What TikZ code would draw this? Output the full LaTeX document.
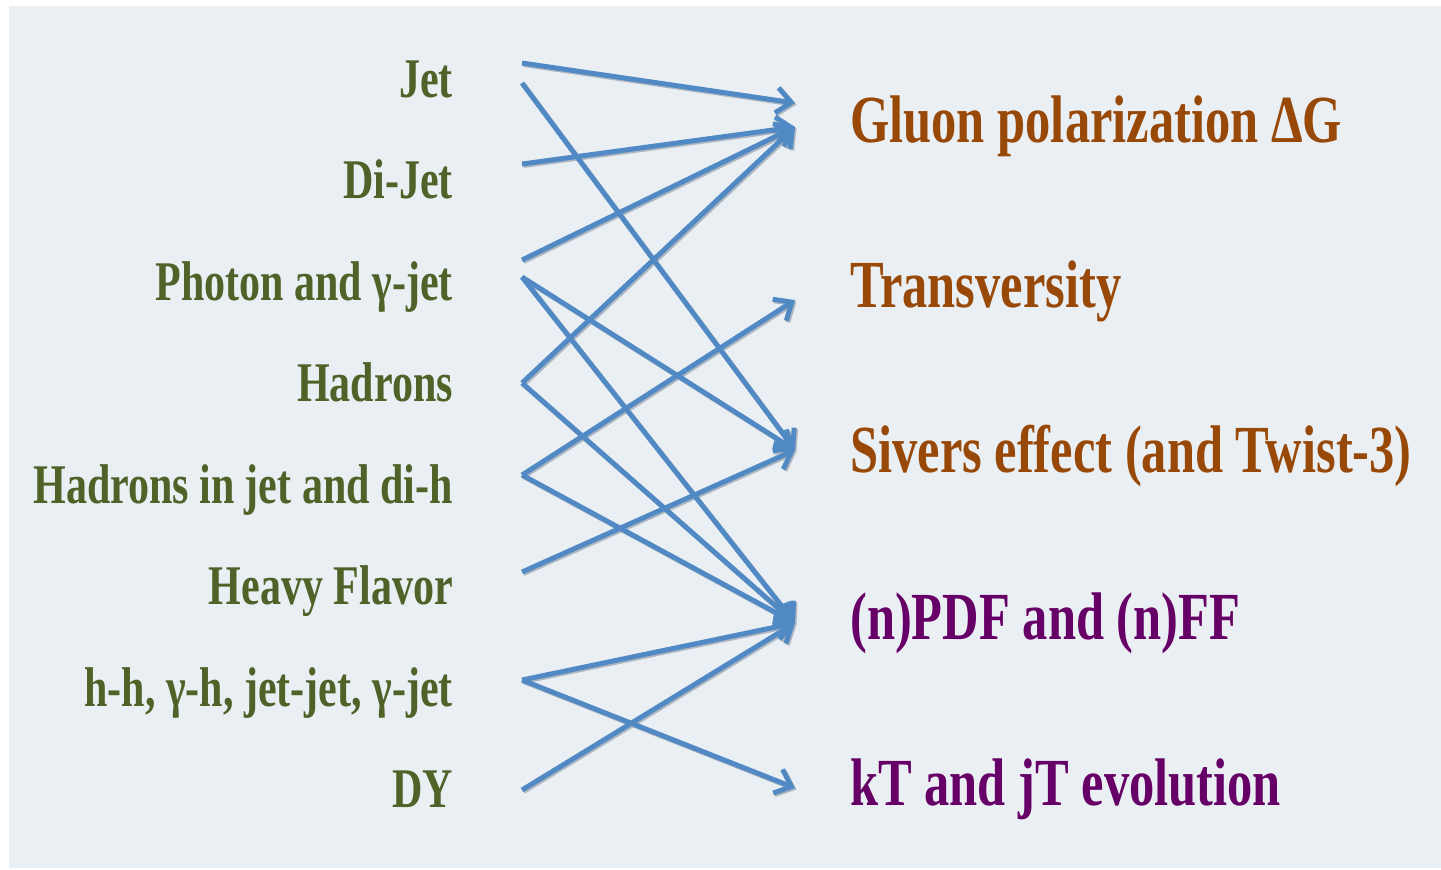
\documentclass[tikz,border=0pt]{standalone}
\usepackage{fontspec}
\setmainfont{Liberation Serif}[FakeStretch=0.75]
\usetikzlibrary{arrows.meta}
\definecolor{bgc}{HTML}{EAEFF4}
\definecolor{olivec}{HTML}{4F6228}
\definecolor{brownc}{HTML}{984807}
\definecolor{purpc}{HTML}{660066}
\definecolor{arrc}{HTML}{5089C4}
\definecolor{shadc}{HTML}{AEB6C0}
\begin{document}
\begin{tikzpicture}[x=0.75pt,y=-0.75pt,
  lt/.style={font=\fontsize{42}{48}\selectfont\bfseries, text=olivec, anchor=base east, inner sep=0pt},
  rt/.style={font=\fontsize{50.5}{58}\selectfont\bfseries, anchor=base west, inner sep=0pt},
  con/.style={draw=arrc, line width=3.7pt, -{Straight Barb[length=11pt,width=19pt]}},
  shad/.style={draw=shadc, line width=3.7pt, -{Straight Barb[length=11pt,width=19pt]}}]
\useasboundingbox (0,0) rectangle (1441,869);
\fill[white] (0,0) rectangle (1441,869);
\fill[bgc] (9,6) rectangle (1441,868);
% left labels
\node[lt] (jet)    at (453,97)    {Jet};
\node[lt] (dijet)  at (453,198.5) {Di-Jet};
\node[lt] (photon) at (453,300)   {Photon and γ-jet};
\node[lt] (had)    at (453,401.5) {Hadrons};
\node[lt] (hjet)   at (453,503)   {Hadrons in jet and di-h};
\node[lt] (heavy)  at (453,604.5) {Heavy Flavor};
\node[lt] (hh)     at (453,706)   {h-h, γ-h, jet-jet, γ-jet};
\node[lt] (dy)     at (453,807.5) {DY};
% right labels
\node[rt, text=brownc] (gluon) at (850,142) {Gluon polarization ΔG};
\node[rt, text=brownc] (trans) at (850,307) {Transversity};
\node[rt, text=brownc] (sivers) at (850,472) {Sivers effect (and Twist-3)};
\node[rt, text=purpc] (pdf) at (850,639) {(n)PDF and (n)FF};
\node[rt, text=purpc] (kt) at (850,805) {kT and jT evolution};
% connector ends
\coordinate (s1a) at (522,63);
\coordinate (s1b) at (522,83);
\coordinate (s2)  at (522,164);
\coordinate (s3a) at (522,260);
\coordinate (s3b) at (522,277);
\coordinate (s4)  at (522,383);
\coordinate (s5)  at (522,475);
\coordinate (s6)  at (522,572);
\coordinate (s7)  at (522,680);
\coordinate (s8)  at (522,790);
\coordinate (e1a) at (795,103);
\coordinate (e1b) at (795,127);
\coordinate (e2)  at (795,300);
\coordinate (e3)  at (795,450);
\coordinate (e4)  at (795,623);
\coordinate (e5)  at (795,788);
\def\conns{s1a/e1a,s1b/e3,s2/e1b,s3a/e1b,s3b/e3,s3b/e4,s4/e1b,s4/e4,s5/e2,s5/e4,s6/e3,s7/e4,s7/e5,s8/e4}
\foreach \a/\b in \conns {\draw[shad] ([shift={(1.5,1.5)}]\a) -- ([shift={(1.5,1.5)}]\b);}
\foreach \a/\b in \conns {\draw[con] (\a) -- (\b);}
\end{tikzpicture}
\end{document}
